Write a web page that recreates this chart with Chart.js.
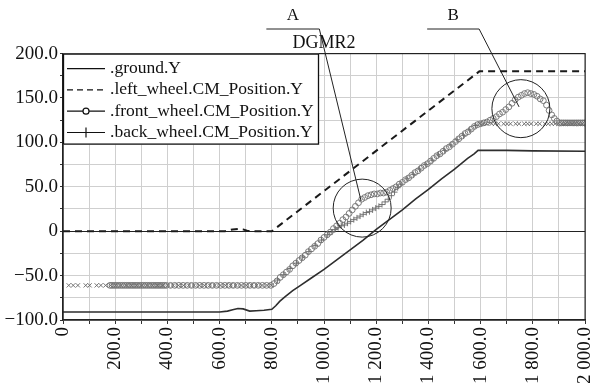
<!DOCTYPE html>
<html>
<head>
<meta charset="utf-8">
<script src="https://cdn.jsdelivr.net/npm/chart.js@4.4.1/dist/chart.umd.min.js"></script>
<style>
  body { margin: 0; background: #fff; }
</style>
</head>
<body>
<canvas id="roadChart" width="590" height="383"></canvas>
<script>
// values
var chartTitle = "DGMR2";
var seriesNames = [".ground.Y", ".left_wheel.CM_Position.Y", ".front_wheel.CM_Position.Y", ".back_wheel.CM_Position.Y"];

var groundX = [0, 600, 630, 650, 670, 690, 715, 740, 770, 800, 815, 830, 850, 880, 910, 950, 1000, 1050, 1100, 1150, 1200, 1250, 1300, 1350, 1400, 1450, 1500, 1550, 1575, 1590, 1600, 1700, 1800, 2000];
var groundY = [-91, -91, -90, -88.5, -87, -87.5, -90, -89.5, -89, -88, -84, -79, -74, -67, -61, -53, -43, -32, -21, -10, 2, 13, 24, 36, 47, 59, 70, 82, 87, 91, 91, 91, 90.5, 90];

var leftX = [0, 620, 635, 650, 670, 690, 705, 720, 800, 1595, 2000];
var leftY = [0, 0, 1, 2, 2.5, 2, 0.5, 0, 0, 180, 180];

var frontX = [180, 188, 196, 204, 212, 220, 228, 236, 244, 252, 260, 268, 276, 284, 292, 300, 308, 316, 324, 332, 340, 348, 356, 364, 372, 380, 388, 396,
  412, 428, 444, 460, 476, 492, 508, 524, 540, 556, 572, 588, 604, 620, 636, 652, 668, 684, 700, 716, 732, 748, 764, 780, 796,
  808, 820, 832, 844, 856, 868, 880, 892, 904, 916, 928, 940, 952, 964, 976, 988, 1000, 1012, 1024, 1036, 1048, 1060, 1072, 1084, 1096, 1108,
  1120, 1132, 1144, 1156, 1168, 1180, 1192, 1204, 1216, 1228, 1240, 1252, 1264, 1276, 1288, 1300, 1312, 1324, 1336, 1348, 1360, 1372, 1384, 1396,
  1408, 1420, 1432, 1444, 1456, 1468, 1480, 1492, 1504, 1516, 1528, 1540, 1552, 1564, 1576, 1588,
  1600, 1612, 1624, 1636, 1648, 1660, 1672, 1684, 1696, 1708, 1720, 1732, 1744, 1756, 1768, 1780, 1792, 1804, 1816, 1828, 1840, 1852, 1862, 1872, 1882, 1892, 1902,
  1910, 1918, 1926, 1934, 1942, 1950, 1958, 1966, 1974, 1982, 1990, 1998];
var frontY = [-61, -61, -61, -61, -61, -61, -61, -61, -61, -61, -61, -61, -61, -61, -61, -61, -61, -61, -61, -61, -61, -61, -61, -61, -61, -61, -61, -61,
  -61, -61, -61, -61, -61, -61, -61, -61, -61, -61, -61, -61, -61, -61, -61, -61, -61, -61, -61, -61, -61, -61, -61, -61, -61,
  -59, -56, -52, -49, -46, -43, -39, -36, -33, -30, -27, -23, -20, -17, -14, -10, -7, -4, -1, 3, 6, 9, 13, 16, 20, 24,
  28, 32, 36, 38, 40, 41, 42, 42, 43, 43, 44, 46, 48, 50, 53, 55, 58, 60, 63, 66, 68, 71, 74, 76,
  79, 82, 85, 87, 90, 93, 95, 98, 101, 104, 107, 110, 112, 115, 118, 120,
  121, 122, 123, 125, 127, 129, 132, 134, 137, 140, 144, 148, 151, 153, 155, 156, 155, 154, 152, 149, 147, 142, 136, 131, 127, 124, 122,
  122, 122, 122, 122, 122, 122, 122, 122, 122, 122, 122, 122];

var backX = [22, 39, 57, 87, 102, 129, 145, 163,
  182, 202, 222, 242, 262, 282, 302, 322, 342, 362, 382, 402, 422, 442, 462, 482, 502, 522, 542, 562, 582, 602, 622, 642, 662, 682, 702, 722, 742, 762, 782, 798,
  822, 846, 870, 894, 918, 942, 966, 990, 1014, 1030, 1042, 1054, 1066, 1078, 1090, 1102, 1114, 1126, 1138, 1150, 1162, 1174, 1186, 1198, 1210, 1222, 1234, 1246, 1258, 1270, 1282, 1294,
  1318, 1342, 1366, 1390, 1414, 1438, 1462, 1486, 1510, 1534, 1558, 1580,
  1596, 1609, 1622, 1642, 1655, 1668, 1688, 1701, 1714, 1734, 1747, 1767, 1780, 1793, 1813, 1826, 1846, 1859, 1872, 1885, 1898, 1911, 1924, 1937, 1950, 1963, 1976, 1989];
var backY = [-61, -61, -61, -61, -61, -61, -61, -61,
  -61, -61, -61, -61, -61, -61, -61, -61, -61, -61, -61, -61, -61, -61, -61, -61, -61, -61, -61, -61, -61, -61, -61, -61, -61, -61, -61, -61, -61, -61, -61, -61,
  -55, -49, -42, -36, -29, -23, -16, -10, -4, -1, 2, 4, 6, 7, 9, 11, 13, 15, 17, 19, 21, 22, 24, 26, 28, 30, 33, 36, 40, 44, 49, 53,
  59, 64, 70, 75, 80, 86, 91, 97, 103, 108, 114, 119,
  121, 121, 121, 121, 121, 121, 121, 121, 121, 121, 121, 121, 121, 121, 121, 121, 121, 121, 121, 121, 121, 121, 121, 121, 121, 121, 121, 121];

var xTickValues = [0, 200, 400, 600, 800, 1000, 1200, 1400, 1600, 1800, 2000];
var xTickText = ["0", "200.0", "400.0", "600.0", "800.0", "1 000.0", "1 200.0", "1 400.0", "1 600.0", "1 800.0", "2 000.0"];
var yTickValues = [-100, -50, 0, 50, 100, 150, 200];
var yTickText = ["\u2212100.0", "\u221250.0", "0", "50.0", "100.0", "150.0", "200.0"];

// callout circles A and B, in data units
var callouts = [
  { label: "A", cx: 1146, cy: 26, r: 29, barFrom: 779, barTo: 982, tipX: 1142, tipY: 34 },
  { label: "B", cx: 1754, cy: 138, r: 29, barFrom: 1395, barTo: 1594, tipX: 1747, tipY: 140 }
];

var serif = '"Liberation Serif", "Times New Roman", serif';

function pairs(xs, ys) {
  return xs.map(function (x, i) { return { x: x, y: ys[i] }; });
}

function tickLabel(values, texts) {
  return function (v) {
    var i = values.indexOf(v);
    return i >= 0 ? texts[i] : "";
  };
}

var framePlugin = {
  id: "frameAndNotes",
  afterDraw: function (chart) {
    var ctx = chart.ctx, a = chart.chartArea;
    var xs = chart.scales.x, ys = chart.scales.y;
    ctx.save();
    // plot frame
    ctx.strokeStyle = "#222";
    ctx.lineWidth = 1.2;
    ctx.strokeRect(a.left, a.top, a.right - a.left, a.bottom - a.top);

    // callouts
    ctx.lineWidth = 1;
    ctx.strokeStyle = "#222";
    ctx.fillStyle = "#111";
    ctx.font = "17px " + serif;
    ctx.textAlign = "center";
    ctx.textBaseline = "middle";
    callouts.forEach(function (c) {
      var cx = xs.getPixelForValue(c.cx), cy = ys.getPixelForValue(c.cy);
      ctx.beginPath();
      ctx.arc(cx, cy, c.r, 0, Math.PI * 2);
      ctx.stroke();
      var x1 = xs.getPixelForValue(c.barFrom), x2 = xs.getPixelForValue(c.barTo);
      ctx.beginPath();
      ctx.moveTo(x1, 29);
      ctx.lineTo(x2, 29);
      ctx.lineTo(xs.getPixelForValue(c.tipX), ys.getPixelForValue(c.tipY));
      ctx.stroke();
      ctx.fillText(c.label, (x1 + x2) / 2, 16);
    });

    // legend box in the top-left corner
    var lx = a.left, ly = a.top, lw = 256, lh = 91;
    ctx.fillStyle = "#fff";
    ctx.fillRect(lx, ly, lw, lh);
    ctx.strokeStyle = "#111";
    ctx.lineWidth = 1.3;
    ctx.strokeRect(lx + 0.5, ly + 0.5, lw - 1, lh - 1);
    ctx.font = "17.5px " + serif;
    ctx.textAlign = "left";
    ctx.fillStyle = "#111";
    chart.data.datasets.forEach(function (ds, i) {
      var y = ly + 15 + i * 21.3;
      ctx.lineWidth = 1.2;
      ctx.strokeStyle = "#111";
      ctx.setLineDash(i === 1 ? [6, 4] : []);
      ctx.beginPath();
      ctx.moveTo(lx + 4, y);
      ctx.lineTo(lx + 42, y);
      ctx.stroke();
      ctx.setLineDash([]);
      var mx = lx + 23;
      if (i === 2) {
        ctx.fillStyle = "#fff";
        ctx.beginPath();
        ctx.arc(mx, y, 3, 0, Math.PI * 2);
        ctx.fill();
        ctx.stroke();
      } else if (i === 3) {
        ctx.beginPath();
        ctx.moveTo(mx, y - 5);
        ctx.lineTo(mx, y + 5);
        ctx.stroke();
      }
      ctx.fillStyle = "#111";
      ctx.fillText(ds.label, lx + 47, y);
    });
    ctx.restore();
  }
};

var chart = new Chart(document.getElementById("roadChart").getContext("2d"), {
  type: "scatter",
  data: {
    datasets: [{
      label: seriesNames[0],
      data: pairs(groundX, groundY),
      showLine: true,
      borderColor: "#2e2e2e",
      borderWidth: 1.6,
      pointRadius: 0
    }, {
      label: seriesNames[1],
      data: pairs(leftX, leftY),
      showLine: true,
      borderColor: "#1a1a1a",
      borderWidth: 2,
      borderDash: [7, 5],
      pointRadius: 0
    }, {
      label: seriesNames[2],
      data: pairs(frontX, frontY),
      showLine: false,
      pointStyle: "circle",
      pointRadius: 2.9,
      pointBorderWidth: 0.9,
      pointBorderColor: "#6e6e6e",
      pointBackgroundColor: "rgba(0,0,0,0)"
    }, {
      label: seriesNames[3],
      data: pairs(backX, backY),
      showLine: false,
      pointStyle: function (c) {
        var p = c.raw;
        return (p && (p.x <= 800 || p.x >= 1590)) ? "crossRot" : "cross";
      },
      pointRadius: 3,
      pointBorderWidth: 0.9,
      pointBorderColor: "#666"
    }]
  },
  options: {
    responsive: false,
    animation: false,
    devicePixelRatio: 1,
    layout: { padding: { left: 0, right: 4.5, top: 0, bottom: 0 } },
    plugins: {
      legend: { display: false },
      tooltip: { enabled: false },
      title: {
        display: true,
        text: chartTitle,
        fullSize: false,
        color: "#111",
        font: { family: serif, size: 18, weight: "normal" },
        padding: { top: 32, bottom: 0 }
      }
    },
    scales: {
      x: {
        type: "linear",
        min: 0,
        max: 2000,
        afterFit: function (s) { s.height = 63; s.paddingLeft = 0; s.paddingRight = 0; },
        ticks: {
          stepSize: 100,
          autoSkip: false,
          minRotation: 90,
          maxRotation: 90,
          padding: 3,
          color: "#111",
          font: { family: serif, size: 19 },
          callback: tickLabel(xTickValues, xTickText)
        },
        grid: { color: "#cfcfcf", lineWidth: 1, tickLength: 4, tickColor: "#333" },
        border: { color: "#222", width: 1.2 }
      },
      y: {
        min: -100,
        max: 200,
        afterFit: function (s) { s.width = 63; },
        ticks: {
          stepSize: 25,
          autoSkip: false,
          padding: 2,
          color: "#111",
          font: { family: serif, size: 19 },
          callback: tickLabel(yTickValues, yTickText)
        },
        grid: {
          color: function (c) { return c.tick && c.tick.value === 0 ? "#222" : "#cfcfcf"; },
          lineWidth: 1,
          tickLength: 3,
          tickColor: "#333"
        },
        border: { color: "#222", width: 1.2 }
      }
    }
  },
  plugins: [framePlugin]
});
</script>
</body>
</html>
